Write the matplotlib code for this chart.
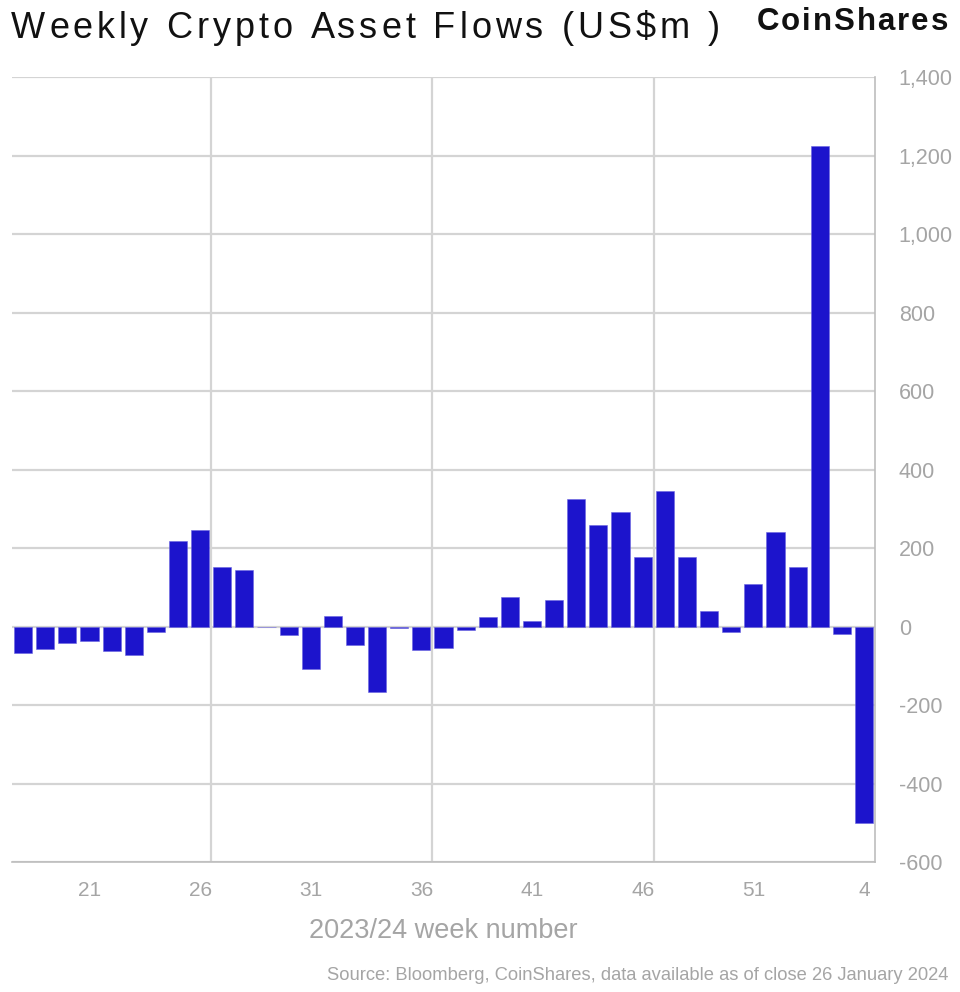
import matplotlib
matplotlib.use('Agg')
import matplotlib.pyplot as plt
from matplotlib.ticker import FixedLocator, FuncFormatter

# Weekly flows, US$m (week 18 of 2023 to week 4 of 2024)
weeks = list(range(18, 53)) + [1, 2, 3, 4]
flows = [-67, -56, -41, -36, -63, -72, -14, 217, 247, 153,
         145, 0, -21, -108, 27, -48, -166, -4, -61, -54,
         -8, 24, 75, 14, 67, 324, 258, 291, 176, 345,
         176, 40, -13, 108, 242, 152, 1225, -19, -500]
tick_weeks = [21, 26, 31, 36, 41, 46, 51, 4]
y_ticks = list(range(-600, 1401, 200))

W, H = 960, 992
font = 'Liberation Sans'
bar_color = '#1c14cc'
grey = '#a5a5a5'
grid_c = '#d4d4d4'

fig = plt.figure(figsize=(W / 100, H / 100), dpi=100)
ax = fig.add_axes([0.0125, 0.131, 0.899, 0.7913])


def spaced_text(x_px, y_px, s, spacing, ha='left', **kw):
    # draw text char by char with extra letter spacing (in pixels)
    r = fig.canvas.get_renderer()

    def width(txt):
        t = fig.text(0, 0, txt, **kw)
        w = t.get_window_extent(r).width
        t.remove()
        return w

    wx = width('x')
    adv = [0] + [width(s[:i] + 'x') - wx for i in range(1, len(s))]
    total = width(s) + spacing * (len(s) - 1)
    x0 = x_px - total if ha == 'right' else x_px
    for i, ch in enumerate(s):
        if ch == ' ':
            continue
        fig.text((x0 + adv[i] + i * spacing) / W, 1 - y_px / H, ch,
                 ha='left', va='baseline', **kw)


x = list(range(len(weeks)))
ax.bar(x, flows, width=0.82, color=bar_color, edgecolor='#6a64e0', linewidth=0.4, zorder=3)

ax.set_xlim(-0.5, len(weeks) - 0.5)
ax.set_ylim(-600, 1400)

# horizontal gridlines
ax.yaxis.set_major_locator(FixedLocator(y_ticks))
ax.yaxis.grid(True, color=grid_c, linewidth=1.6, zorder=0)
# vertical gridlines every 10 weeks
for gx in [8.5, 18.5, 28.5]:
    ax.axvline(gx, color=grid_c, linewidth=1.6, zorder=0)

tick_pos = [weeks.index(w) if w != 4 else len(weeks) - 1 for w in tick_weeks]
ax.set_xticks(tick_pos)
ax.set_xticklabels([str(w) for w in tick_weeks], fontsize=15, color=grey, family=font)
ax.tick_params(axis='x', length=0, pad=14)

ax.yaxis.tick_right()
ax.yaxis.set_major_formatter(FuncFormatter(lambda v, p: f'{int(v):,}'))
ax.tick_params(axis='y', length=0, pad=17, labelsize=15.5, labelcolor=grey)
for lab in ax.get_yticklabels():
    lab.set_family(font)

for s in ['left', 'top']:
    ax.spines[s].set_visible(False)
for s in ['right', 'bottom']:
    ax.spines[s].set_color('#bdbdbd')
    ax.spines[s].set_linewidth(1.2)

ax.set_xlabel('2023/24 week number', fontsize=19.5, color=grey, family=font)
ax.xaxis.set_label_coords(0.5, -0.071)

spaced_text(11, 38.5, 'Weekly Crypto Asset Flows (US$m )', 4.0,
            fontsize=26, family=font, color='#111111')
spaced_text(948, 30, 'CoinShares', 2.0, ha='right',
            fontsize=22.5, family=font, fontweight='bold', color='#111111')
fig.text(0.988, 0.017, 'Source: Bloomberg, CoinShares, data available as of close 26 January 2024',
         fontsize=13.2, family=font, color=grey, ha='right', va='center')

fig.savefig('out.png', dpi=100, facecolor='white')
